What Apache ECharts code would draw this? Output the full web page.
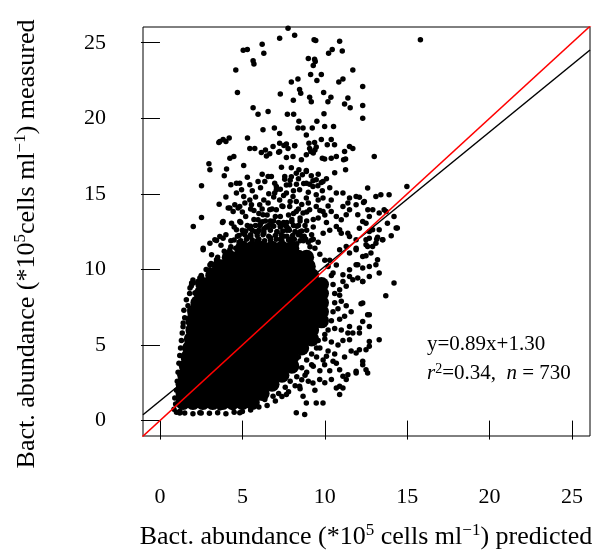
<!DOCTYPE html>
<html><head><meta charset="utf-8">
<script src="https://cdn.jsdelivr.net/npm/echarts@6/dist/echarts.min.js"></script>
<style>html,body{margin:0;padding:0;background:#fff}#c{width:595px;height:553px}</style>
</head><body><div id="c"></div>
<script>
// ---- data ----
const xTicks = [0, 5, 10, 15, 20, 25];
const yTicks = [0, 5, 10, 15, 20, 25];
const xRange = [-1.03, 26.09];
const yRange = [-1.02, 26.04];
const fitSlope = 0.89, fitIntercept = 1.30;
const fitText = 'y=0.89x+1.30';
const r2Text = '0.34', nText = '730';

// solid black core of the cloud: measured value of each row, predicted values in that row
const coreMeasuredRows = [1.2,1.8,2.4,3.0,3.6,4.2,4.8,5.4,6.0,6.6,7.2,7.8,8.4,9.0,9.6,10.2,10.8,11.4];
const corePredictedRows = [
 [1.4,2.0,2.6,3.2,3.8,4.4,5.0,5.6],
 [1.4,2.0,2.6,3.2,3.8,4.4,5.0,5.6,6.2],
 [1.4,2.0,2.6,3.2,3.8,4.4,5.0,5.6,6.2,6.8],
 [1.5,2.0,2.6,3.2,3.8,4.4,5.0,5.6,6.2,6.8,7.4],
 [1.6,2.0,2.6,3.2,3.8,4.4,5.0,5.6,6.2,6.8,7.4,8.0],
 [1.7,2.2,2.6,3.2,3.8,4.4,5.0,5.6,6.2,6.8,7.4,8.0],
 [1.8,2.2,2.6,3.2,3.8,4.4,5.0,5.6,6.2,6.8,7.4,8.0,8.6],
 [1.9,2.6,3.2,3.8,4.4,5.0,5.6,6.2,6.8,7.4,8.0,8.6,9.2],
 [2.0,2.6,3.2,3.8,4.4,5.0,5.6,6.2,6.8,7.4,8.0,8.6,9.2],
 [2.0,2.6,3.2,3.8,4.4,5.0,5.6,6.2,6.8,7.4,8.0,8.6,9.2,9.8],
 [2.1,2.6,3.2,3.8,4.4,5.0,5.6,6.2,6.8,7.4,8.0,8.6,9.2,9.8],
 [2.3,2.8,3.3,3.8,4.4,5.0,5.6,6.2,6.8,7.4,8.0,8.6,9.2,9.8],
 [2.5,3.2,3.8,4.4,5.0,5.6,6.2,6.8,7.4,8.0,8.6,9.2,9.8],
 [2.6,3.2,3.8,4.4,5.0,5.6,6.2,6.8,7.4,8.0,8.6,9.2,9.8],
 [3.2,3.8,4.4,5.0,5.6,6.2,6.8,7.4,8.0,8.6,9.2],
 [3.6,4.2,4.8,5.4,6.0,6.6,7.2,7.8,8.4,9.0],
 [4.2,4.8,5.4,6.0,6.6,7.2,7.8,8.4,8.9],
 [5.0,5.6,6.2,6.8,7.4,8.0]
];

// individually visible points [predicted, measured]
const scatterPoints = [
 [7.77,25.95],[8.17,25.5],[7.26,25.3],[9.35,25.2],[9.45,25.15],[10.9,25.1],[15.8,25.2],[6.2,24.9],[5.05,24.5],[5.3,24.55],[6.3,24.3],[10.45,24.55],[10.23,24.3],[11.06,24.45],[9.0,23.95],[9.38,23.9],[9.42,23.75],[5.65,23.8],[5.7,23.6],[9.3,23.5],[4.6,23.2],[11.7,23.2],[9.79,22.9],[9.14,22.9],[8.37,22.6],[7.97,22.4],[9.52,22.5],[11.1,22.6],[10.85,22.4],[12.3,22.1],[4.7,21.7],[7.3,21.6],[8.47,21.9],[8.54,21.66],[9.93,21.7],[9.08,21.4],[9.18,21.1],[10.37,21.4],[10.19,21.1],[11.4,21.35],[8.09,21.2],[11.2,20.95],[11.54,20.7],[12.3,20.85],[5.65,20.7],[6.56,20.45],[5.95,20.27],[7.73,20.27],[8.11,20.27],[9.95,20.3],[12.3,20.0],[8.43,19.8],[9.52,19.8],[6.25,19.25],[6.94,19.35],[7.26,19.0],[8.37,19.35],[8.68,19.35],[9.24,19.35],[9.99,19.45],[10.53,19.45],[8.88,18.9],[5.31,18.7],[3.57,18.4],[3.83,18.6],[4.2,18.7],[5.45,18.0],[5.75,18.0],[6.4,17.9],[6.15,17.73],[6.46,17.5],[6.66,17.65],[7.52,18.2],[7.77,18.0],[8.17,18.2],[7.2,17.75],[7.67,17.4],[9.04,18.35],[9.08,18.0],[9.38,18.4],[9.48,18.1],[9.79,18.6],[10.15,18.25],[10.39,18.6],[10.59,18.25],[9.15,17.8],[9.3,17.7],[9.4,17.9],[9.85,17.36],[9.99,17.3],[10.39,17.36],[10.7,17.47],[11.2,17.8],[11.5,18.13],[11.7,18.0],[11.26,17.3],[13.0,17.47],[4.24,17.36],[4.48,17.47],[5.08,16.87],[2.97,17.0],[4.04,16.64],[3.63,18.46],[4.0,18.46],[6.86,18.13],[7.26,17.8],[7.67,18.3],[8.17,18.18],[7.26,18.35],[8.58,17.25],[8.07,17.47],[8.88,17.58],[11.14,17.25],
 [3.03,16.6],[7.37,16.76],[7.97,16.72],[8.43,16.59],[8.88,16.54],[9.18,16.2],[8.64,16.26],[9.28,15.86],[9.79,15.75],[9.08,15.64],[9.58,15.53],[9.85,15.2],[7.97,16.13],[7.57,15.97],[8.28,15.64],[8.72,15.68],[7.67,15.58],[6.96,15.7],[7.06,15.27],[6.56,16.15],[5.95,15.82],[6.36,15.82],[5.45,15.6],[4.84,15.7],[5.08,14.82],[4.64,15.05],[4.54,14.28],[4.84,14.16],[5.15,14.39],[5.45,14.6],[2.52,15.53],[3.59,14.32],[11.26,16.59],
 [4.64,15.71],[4.95,15.27],[6.76,16.15],[7.06,15.49],[6.96,15.05],[7.57,16.15],[7.87,15.6],[8.27,16.37],[8.88,16.48],[9.48,15.93],[9.89,15.82],[8.88,15.71],[9.28,15.49],[8.47,15.27],[8.07,14.82],[7.67,15.05],[7.26,14.6],[7.46,14.16],[8.27,14.49],[8.88,14.72],[9.48,14.94],[9.89,14.72],[10.39,14.6],[10.7,15.05],[11.1,15.05],[11.5,14.72],[11.9,14.82],[12.4,14.49],[12.6,15.38],[13.1,14.82],[13.4,14.94],[13.9,14.94],[14.98,15.49],[12.1,14.78],[11.9,14.28],[11.4,14.39],[12.35,14.43],
 [5.6,15.2],[6.1,15.4],[6.6,15.0],[7.3,15.3],[7.9,15.9],[8.4,16.0],[8.1,15.2],[9.0,15.1],[9.6,16.3],[6.2,16.3],[5.3,16.1],[4.3,15.6],[4.0,14.8],[3.9,16.2],[10.3,15.4],[10.1,16.0],[10.6,16.4],
 [2.52,13.44],[2.02,12.84],[3.79,13.1],[4.24,14.06],[4.44,13.83],[4.14,14.06],[4.74,14.06],[4.84,13.17],[4.34,13.06],[3.83,13.17],[4.64,12.62],[5.04,12.4],[5.45,12.73],[5.95,13.28],[6.25,13.62],[6.66,13.95],[7.06,13.95],[5.55,14.28],[6.05,14.28],[6.56,14.39],[7.87,14.16],[8.27,13.83],[8.68,13.73],[9.08,13.95],[9.48,14.16],[9.89,13.83],[10.39,13.83],[10.7,13.5],[11.1,14.16],[11.5,13.95],[12.0,13.62],[12.3,13.17],[12.7,13.5],[13.3,13.73],[13.6,13.95],[14.2,13.5],[14.4,12.74],[13.8,13.06],[13.3,12.62],[12.7,12.51],[12.5,11.96],[11.9,11.96],[11.5,12.18],[11.0,12.4],[10.7,12.84],[11.3,13.62],[11.0,13.28],[10.9,12.62],[11.4,12.4],[12.1,12.73],[12.5,13.06],[12.9,12.62],[12.7,12.07],[13.2,12.13],[14.03,12.23],[13.52,11.96],[13.15,12.0],[14.33,12.74],[12.61,13.95],[12.91,13.95],[13.72,13.83],
 [6.0,12.6],[6.6,12.9],[7.2,13.1],[7.6,12.9],[8.0,13.3],[8.4,12.9],[8.9,13.2],[9.3,12.8],[9.6,13.4],[10.1,13.1],[9.9,12.4],[7.0,13.5],[6.4,13.2],[7.8,13.6],[8.6,14.3],[9.2,12.3],[10.3,12.6],[5.2,13.5],[5.7,13.9],[6.2,14.0],
 [4.3,11.9],[4.7,12.2],[5.1,11.7],[5.5,12.3],[5.9,11.9],[6.3,12.4],[6.7,12.1],[7.1,12.5],[7.5,12.2],[7.9,12.0],[8.3,11.7],[8.7,11.9],[9.1,11.5],[4.6,11.4],[5.0,12.6],[5.4,11.3],[5.8,12.9],[6.1,11.6],[6.5,12.8],[6.9,11.5],[7.3,12.0],[7.7,12.6],[8.1,12.9],[8.5,12.5],[8.9,12.6],[9.3,12.0],[9.6,11.8],[4.0,12.3],[3.7,11.6],[4.5,12.8],
 [4.5,11.95],[4.9,11.9],[5.25,12.0],[5.6,11.95],[6.0,12.0],[6.35,11.9],[6.7,11.95],[7.05,12.0],[7.4,11.9],[7.8,11.95],[8.15,12.0],[8.5,11.9],[8.85,12.0],[9.2,11.95],
 [4.8,12.25],[5.15,12.3],[5.5,12.2],[5.9,12.25],[6.25,12.3],[6.6,12.2],[7.0,12.25],[7.35,12.3],[7.7,12.2],[8.05,12.25],[8.4,12.3],[8.75,12.2],
 [5.2,12.55],[5.6,12.6],[5.95,12.5],[6.3,12.55],[6.7,12.6],[7.1,12.5],[7.45,12.55],[7.85,12.6],[8.2,12.5],[8.6,12.55],
 [5.5,12.85],[6.05,12.9],[6.45,12.8],[6.9,12.85],[7.3,12.9],[7.7,12.8],[8.3,12.85],[8.8,12.9],
 [6.2,13.15],[6.7,13.2],[7.5,13.1],[8.0,13.15],[8.5,13.2],
 [4.9,13.1],[5.3,12.9],[5.7,13.3],[6.1,13.0],[6.5,13.6],[6.9,13.2],[7.3,13.5],[7.7,13.1],[8.1,13.7],[8.5,13.4],[8.9,13.8],[9.3,13.3],[9.7,13.9],[5.0,13.8],[5.5,14.0],[6.0,13.7],[6.8,14.0],[7.4,14.2],[7.9,14.5],[8.4,14.0],[9.0,14.4],[9.6,14.6],[10.0,13.6],[10.2,14.2],[6.3,14.6],[6.9,14.8],[7.5,14.9],[5.8,14.8],
 [12.5,10.9],[13.2,10.64],[12.0,10.31],[12.7,10.2],[13.1,10.31],[11.5,9.54],[12.0,9.43],[12.3,9.2],[11.1,9.2],[11.3,8.88],[10.9,8.66],[10.5,9.76],[10.7,10.3],[10.3,10.6],[14.2,9.1],[13.7,8.26],[11.5,11.08],[11.9,11.3],[12.3,10.86],[12.6,11.52],[13.1,11.74],[13.5,11.96],[12.8,11.08],[11.9,10.31],[12.3,10.09],[11.5,9.98],[11.1,9.65],[11.7,9.32],[12.3,9.21],[12.7,9.54],[13.3,9.76],[11.3,11.52],[11.9,11.41],[10.9,11.3],[12.5,11.63],[12.9,11.52],
 [2.62,11.3],[3.03,11.74],[3.43,11.92],[3.83,12.07],[2.42,9.43],[2.02,9.1],[1.82,8.77],[2.12,8.44],[3.03,10.3],[1.92,9.1],[2.52,9.54],[3.03,9.98],[2.62,11.41],[3.33,11.96],[3.63,12.18],[3.13,10.97],[3.43,10.64],[4.24,11.3],[1.41,6.46],[1.82,7.34],
 [12.2,7.73],[12.6,7.0],[12.3,6.56],[13.3,5.35],[12.7,5.24],[12.1,6.13],[11.5,6.23],[11.4,5.8],[11.0,6.0],[11.7,5.8],[12.1,4.69],[12.5,4.69],[12.3,3.92],[12.6,3.15],[12.3,3.7],[11.9,3.26],[11.4,3.04],[10.9,2.27],[11.1,2.16],[10.9,3.37],[10.4,2.71],[10.5,3.92],[9.99,3.7],[10.1,4.25],[9.89,1.17],[8.78,0.4],[8.27,0.51],[7.67,1.72],[8.68,1.61],[8.88,1.17],[9.28,2.49],[9.69,2.71],[8.47,2.27],[4.84,0.51],[4.44,0.84],[5.25,1.06],[5.85,1.17],[6.36,1.39],[6.86,1.61],[2.42,0.51],[3.63,0.84],[1.21,0.62],[12.3,7.78],[12.7,7.0],[12.7,6.23],[12.1,5.8],[11.5,5.35],[11.9,4.47],[12.7,4.91],[12.5,3.37],[11.9,3.15],[11.1,2.93],[10.7,2.16],[11.3,2.71],[9.48,1.17],[10.9,1.72],
 [7.9,2.6],[8.3,2.9],[8.1,3.4],[8.6,3.5],[8.9,4.0],[9.2,4.4],[8.4,4.2],[7.6,2.2],[7.2,1.8],[8.8,3.0],[9.5,4.8],[9.3,3.6],[9.7,3.3],[9.0,2.6],[8.5,2.1],[9.9,4.0],[10.2,4.6],[10.4,5.2],[10.0,5.7],[9.6,5.3],[10.6,6.1],[10.9,6.7],[10.8,7.4],[11.0,7.9],[10.9,8.3],[11.2,6.9],[11.6,7.2],[11.3,7.6],[10.6,4.4],[10.8,5.0],[11.1,5.3],[9.4,2.0],[10.0,2.5],[10.3,3.3],[10.7,3.8],[11.2,4.2],[11.6,4.6],
 [0.85,0.75],[0.95,1.1],[0.9,1.5],[1.0,0.55],[1.2,0.5],[1.0,2.0],[1.05,2.6],[1.1,3.2],[1.15,3.8],[1.2,4.3],[1.25,4.8],[1.3,5.3],[1.35,5.8],[1.4,6.2],[1.5,6.8],[1.45,7.3],[1.7,7.6],[1.6,8.0],[1.8,8.4],[1.9,8.9],[2.0,9.3],
 [1.5,0.5],[2.0,0.45],[2.5,0.5],[3.0,0.48],[3.5,0.52],[4.0,0.45],[4.5,0.55],[5.0,0.6],[5.5,0.7],[6.0,0.9],[6.5,1.0],[7.0,1.3],[7.4,1.6],[7.8,1.9],[8.2,2.3],[8.6,2.7],[8.9,3.2],[9.2,3.7],[9.5,4.2],[9.7,4.8],[10.0,5.4],[10.2,6.0],[10.4,6.6],[10.5,7.2],[10.6,7.8],[10.6,8.4],[10.5,9.0],[10.4,9.6],[10.2,10.2],[10.0,10.6],[9.7,11.0],[9.4,11.4],[9.0,11.8],[8.6,12.2],[8.2,12.5],
 [7.8,12.7],[7.3,12.8],[6.8,12.9],[6.3,12.7],[5.8,12.5],[5.3,12.1],[4.8,11.8],[4.3,11.5],[3.9,11.2],[3.5,10.8],[3.1,10.4],[2.8,10.0],[2.5,9.6],[2.3,9.2]
];

// ---- chart ----
const FONT = "'Liberation Serif','Times New Roman',serif";
const coreData = [];
coreMeasuredRows.forEach((m, i) => corePredictedRows[i].forEach(p => coreData.push([p, m])));

const fitLine = [[xRange[0], fitIntercept + fitSlope * xRange[0]], [xRange[1], fitIntercept + fitSlope * xRange[1]]];
const oneToOne = [[xRange[0] - 0.1, xRange[0] - 0.1], [xRange[1] + 0.1, xRange[1] + 0.1]];

const chart = echarts.init(document.getElementById('c'), null, {renderer: 'canvas'});
const titleRich = {
  t: {fontSize: 26, fontFamily: FONT, fill: '#000', lineHeight: 30},
  s: {fontSize: 17, fontFamily: FONT, fill: '#000', lineHeight: 19, verticalAlign: 'top'}
};
chart.setOption({
  animation: false,
  backgroundColor: '#fff',
  grid: {left: 143, right: 5, top: 27, bottom: 117, show: true, borderColor: '#000', borderWidth: 1, backgroundColor: 'transparent'},
  xAxis: {
    type: 'value', min: xRange[0], max: xRange[1],
    axisLine: {show: false},
    axisTick: {show: true, inside: false, length: 19, lineStyle: {color: '#000', width: 1}, customValues: xTicks},
    axisLabel: {customValues: xTicks, margin: 50, fontSize: 22, color: '#000', fontFamily: FONT},
    splitLine: {show: false}
  },
  yAxis: {
    type: 'value', min: yRange[0], max: yRange[1],
    axisLine: {show: false},
    axisTick: {show: true, inside: false, length: 19, lineStyle: {color: '#000', width: 1}, customValues: yTicks},
    axisLabel: {customValues: yTicks, margin: 37, fontSize: 22, color: '#000', fontFamily: FONT},
    splitLine: {show: false}
  },
  series: [
    {type: 'line', data: fitLine, symbol: 'none', clip: true, silent: true,
     lineStyle: {color: '#000', width: 1.5}},
    {type: 'scatter', data: coreData, symbol: 'circle', symbolSize: 15, silent: true,
     itemStyle: {color: '#000', opacity: 1}},
    {type: 'scatter', data: scatterPoints, symbol: 'circle', symbolSize: 5.5, silent: true, clip: true,
     itemStyle: {color: '#000', opacity: 1}},
    {type: 'line', data: oneToOne, symbol: 'none', clip: true, silent: true,
     lineStyle: {color: '#ff0000', width: 1.5}}
  ],
  graphic: [
    {type: 'text', x: 366, y: 537, silent: true,
     style: {text: '{t|Bact. abundance (*10}{s|5}{t| cells ml}{s|−1}{t|) predicted}', align: 'center', verticalAlign: 'middle', rich: titleRich}},
    {type: 'text', x: 27, y: 244, rotation: Math.PI / 2, silent: true,
     style: {text: '{t|Bact. abundance (*10}{s|5}{t|cells ml}{s|−1}{t|) measured}', align: 'center', verticalAlign: 'middle', rich: titleRich}},
    {type: 'text', x: 427, y: 344, silent: true,
     style: {text: fitText, font: '21px ' + FONT, fill: '#000', verticalAlign: 'middle'}},
    {type: 'text', x: 427, y: 373, silent: true,
     style: {text: '{i|r}{s|2}{n|=' + r2Text + ',  }{i|n}{n| = ' + nText + '}', verticalAlign: 'middle',
       rich: {
         i: {fontSize: 21, fontFamily: FONT, fontStyle: 'italic', fill: '#000', lineHeight: 22},
         n: {fontSize: 21, fontFamily: FONT, fill: '#000', lineHeight: 22},
         s: {fontSize: 14, fontFamily: FONT, fill: '#000', verticalAlign: 'top', lineHeight: 16}
       }}}
  ]
});
</script>
</body></html>
